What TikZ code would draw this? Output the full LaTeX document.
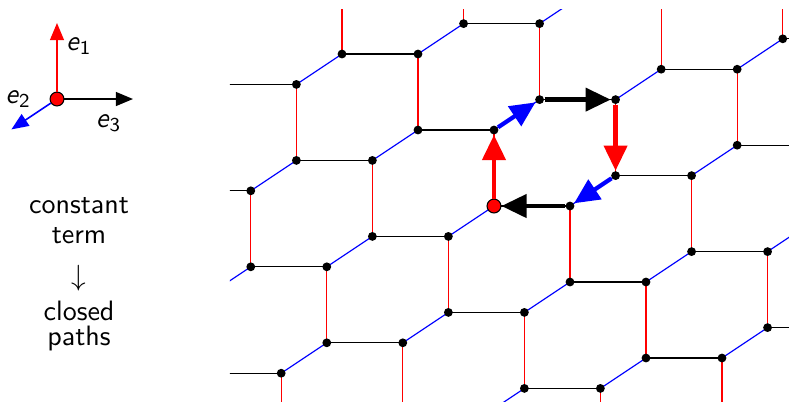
\documentclass[tikz,border=0pt]{standalone}
\usepackage{amsmath}
\usetikzlibrary{arrows.meta}
\tikzset{
  dot/.style={circle,fill=black,inner sep=0pt,minimum size=3.3pt},
  origin/.style={circle,fill=red,draw=black,line width=0.4pt,inner sep=0pt,minimum size=5.2pt},
  rung/.style={red,line width=0.45pt},
  diag/.style={blue,line width=0.45pt},
  horiz/.style={black,line width=0.45pt},
  walk/.style={line width=1.6pt,-{Triangle[length=9.4pt,width=8.6pt]}},
  axis/.style={line width=0.6pt,-{Triangle[length=6.4pt,width=5.2pt]}},
  lbl/.style={font=\sffamily\fontsize{10.5}{12}\selectfont,inner sep=0pt}
}
\begin{document}
\begin{tikzpicture}[x=1cm,y=1cm]
\useasboundingbox (-6.5,-2.566) rectangle (3.882,2.711);

% honeycomb lattice: A sites at i(e1-e2)+j(e1-e3), B sites at A+e1
\begin{scope}
\clip (-3.474,-2.8) rectangle (4.1,2.59);
\foreach \i in {0,...,10}{
  \foreach \j in {0,...,20}{
    \coordinate (pa-\i-\j) at ({0.6*(\i-5)-(\j-10)},{1.4*(\i-5)+(\j-10)});
    \coordinate (pb-\i-\j) at ({0.6*(\i-5)-(\j-10)},{1.4*(\i-5)+(\j-10)+1});
  }
}
\foreach \i in {0,...,10}{
  \foreach \j in {0,...,20}{
    \draw[rung] (pa-\i-\j) -- (pb-\i-\j);
    \ifnum\j>0 \pgfmathtruncatemacro\jm{\j-1}\draw[horiz] (pa-\i-\j) -- (pb-\i-\jm);\fi
    \ifnum\i>0 \pgfmathtruncatemacro\im{\i-1}\draw[diag] (pa-\i-\j) -- (pb-\im-\j);\fi
  }
}
\foreach \i in {0,...,10}{
  \foreach \j in {0,...,20}{
    \node[dot] (da-\i-\j) at (pa-\i-\j) {};
    \node[dot] (db-\i-\j) at (pb-\i-\j) {};
  }
}
\node[origin] (O) at (pa-5-10) {};

% closed walk around one hexagon
\draw[walk,red]   (O) -- (db-5-10);
\draw[walk,blue]  (db-5-10) -- (da-6-10);
\draw[walk,black] (da-6-10) -- (db-6-9);
\draw[walk,red]   (db-6-9) -- (da-6-9);
\draw[walk,blue]  (da-6-9) -- (db-5-9);
\draw[walk,black] (db-5-9) -- (O);
\end{scope}

% unit vectors
\node[origin] (L) at (-5.75,1.408) {};
\coordinate (Le1) at (-5.75,2.408);
\coordinate (Le2) at (-6.35,1.008);
\coordinate (Le3) at (-4.75,1.408);
\draw[axis,red]   (L) -- (Le1);
\draw[axis,blue]  (L) -- (Le2);
\draw[axis,black] (L) -- (Le3);
\node[lbl] (t1) at (-5.46,2.105) {$\textsf{\textit{e}}_{\textsf{1}}$};
\node[lbl] (t2) at (-6.26,1.408) {$\textsf{\textit{e}}_{\textsf{2}}$};
\node[lbl] (t3) at (-5.07,1.09)  {$\textsf{\textit{e}}_{\textsf{3}}$};

% caption
\node[lbl,anchor=base] (c1) at (-5.46,-0.096) {constant};
\node[lbl,anchor=base] (c2) at (-5.46,-0.49)  {term};
\node[lbl] (c3) at (-5.46,-0.947) {$\downarrow$};
\node[lbl,anchor=base] (c4) at (-5.46,-1.507) {closed};
\node[lbl,anchor=base] (c5) at (-5.46,-1.83)  {paths};
\end{tikzpicture}
\end{document}
